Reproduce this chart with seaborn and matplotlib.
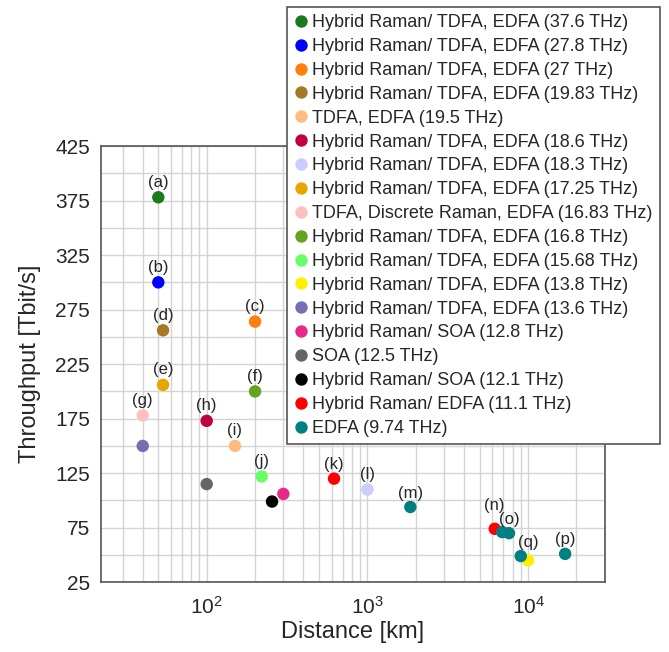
import matplotlib
matplotlib.use("Agg")
import matplotlib.pyplot as plt
import matplotlib.ticker as mticker
import seaborn as sns
import pandas as pd

# legend entries (amplifier type and bandwidth), in legend order
categories = [
    "Hybrid Raman/ TDFA, EDFA (37.6 THz)",
    "Hybrid Raman/ TDFA, EDFA (27.8 THz)",
    "Hybrid Raman/ TDFA, EDFA (27 THz)",
    "Hybrid Raman/ TDFA, EDFA (19.83 THz)",
    "TDFA, EDFA (19.5 THz)",
    "Hybrid Raman/ TDFA, EDFA (18.6 THz)",
    "Hybrid Raman/ TDFA, EDFA (18.3 THz)",
    "Hybrid Raman/ TDFA, EDFA (17.25 THz)",
    "TDFA, Discrete Raman, EDFA (16.83 THz)",
    "Hybrid Raman/ TDFA, EDFA (16.8 THz)",
    "Hybrid Raman/ TDFA, EDFA (15.68 THz)",
    "Hybrid Raman/ TDFA, EDFA (13.8 THz)",
    "Hybrid Raman/ TDFA, EDFA (13.6 THz)",
    "Hybrid Raman/ SOA (12.8 THz)",
    "SOA (12.5 THz)",
    "Hybrid Raman/ SOA (12.1 THz)",
    "Hybrid Raman/ EDFA (11.1 THz)",
    "EDFA (9.74 THz)",
]
colors = [
    "#1b7a1b", "#0000ff", "#ff7f0e", "#a67a24", "#ffbb80", "#c00040",
    "#ccccff", "#e6a800", "#ffbfbf", "#62a320", "#66ff66", "#fff000",
    "#7570b3", "#e7298a", "#666666", "#000000", "#ff0000", "#008080",
]

# one entry per experiment
point_cat = [0, 1, 2, 3, 4, 5, 6, 7, 8, 9, 10, 11, 12, 13, 14, 15,
             16, 16, 17, 17, 17, 17, 17]
distance = [50, 50, 200, 53.5, 150, 100, 1000, 53.5, 40, 200, 220, 10000,
            40, 300, 100, 255, 620, 6200, 1850, 6900, 7600, 9000, 17000]
throughput = [378, 300, 264, 256, 150, 173, 110, 206, 178, 200, 122, 45,
              150, 106, 115, 99, 120, 74, 94, 71, 70, 49, 51]
tags = ["(a)", "(b)", "(c)", "(d)", "(i)", "(h)", "(l)", "(e)", "(g)", "(f)",
        "(j)", "(q)", "", "", "", "", "(k)", "(n)", "(m)", "", "(o)", "", "(p)"]
# vertical offset of each tag above its point, in points
tag_lift = [11, 11, 11, 11, 11, 11, 11, 11, 11, 11, 11, 13, 0, 0, 0, 0,
            10, 17, 10, 0, 10, 0, 10]

df = pd.DataFrame({
    "Distance": distance,
    "Throughput": throughput,
    "Type": [categories[i] for i in point_cat],
})

sns.set_style("whitegrid")
plt.rcParams["font.family"] = ["Liberation Sans", "DejaVu Sans"]
plt.rcParams["mathtext.default"] = "regular"

fig = plt.figure(figsize=(6.69, 6.52), dpi=100)
ax = fig.add_axes([0.151, 0.107, 0.753, 0.669])

sns.scatterplot(data=df, x="Distance", y="Throughput", hue="Type",
                hue_order=categories, palette=dict(zip(categories, colors)),
                s=80, linewidth=0, ax=ax, zorder=3)

ax.set_xscale("log")
ax.set_xlim(22, 30000)
ax.set_ylim(25, 425)
ax.set_yticks(range(25, 426, 50))
ax.yaxis.set_minor_locator(mticker.FixedLocator(range(50, 401, 50)))
ax.xaxis.set_major_locator(mticker.LogLocator(base=10))
ax.xaxis.set_minor_locator(mticker.LogLocator(base=10, subs=range(2, 10)))
ax.xaxis.set_minor_formatter(mticker.NullFormatter())
ax.grid(True, which="both", color="#d4d4d4", linewidth=1)
ax.tick_params(which="both", length=0, labelsize=15, pad=8)
ax.tick_params(axis="x", pad=10)
for sp in ax.spines.values():
    sp.set_color("#555555")
    sp.set_linewidth(1.2)

ax.set_xlabel("Distance [km]", fontsize=17, labelpad=2)
ax.set_ylabel("Throughput [Tbit/s]", fontsize=17, labelpad=10)

for t, x, y, lift in zip(tags, distance, throughput, tag_lift):
    if t:
        ax.annotate(t, (x, y), xytext=(0, lift), textcoords="offset points",
                    ha="center", va="center", fontsize=12, zorder=4)

handles, labels = ax.get_legend_handles_labels()
ax.legend(handles, labels, loc="upper left",
          bbox_to_anchor=(287 / 669, 1 - 7 / 652), bbox_transform=fig.transFigure,
          frameon=True, fancybox=False, edgecolor="#555555", framealpha=1,
          fontsize=13, labelspacing=0.38, handlelength=0.7, handletextpad=0.3,
          borderpad=0.4, borderaxespad=0)
ax.get_legend().get_frame().set_linewidth(1.2)

fig.savefig("out.png", dpi=100)
